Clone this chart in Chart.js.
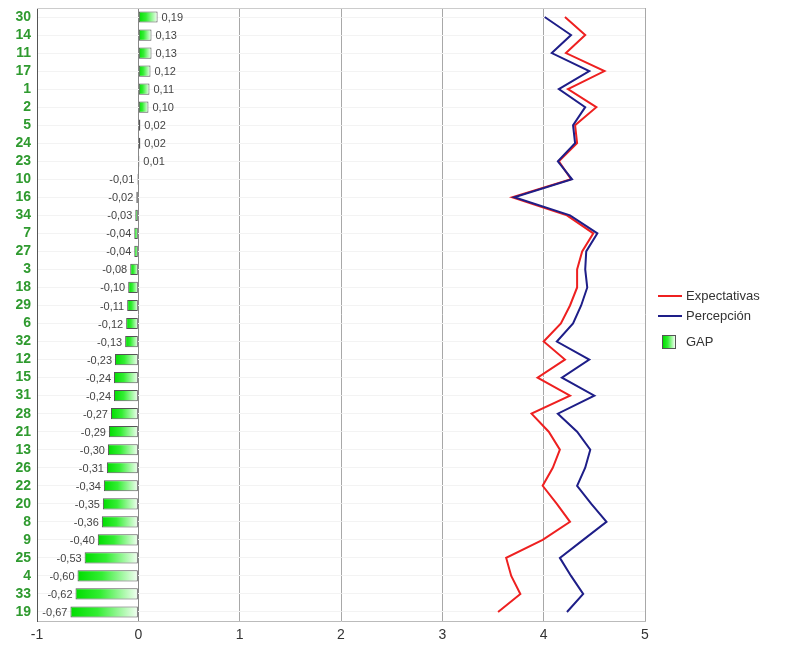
<!DOCTYPE html>
<html><head><meta charset="utf-8">
<script src="https://cdn.jsdelivr.net/npm/chart.js@4"></script>
<style>
html,body{margin:0;padding:0;background:#fff;}
#wrap{position:relative;width:793px;height:646px;}
#c{position:absolute;left:0;top:0;}
.lg{position:absolute;font:13px "Liberation Sans",Arial,sans-serif;color:#333;}
.ln{position:absolute;height:2px;width:24px;}
.bx{position:absolute;width:12px;height:12px;border:1px solid #555;background:linear-gradient(to right,#00dd00,#33ee33 40%,#f4fff4);}
</style></head>
<body><div id="wrap"><canvas id="c" width="793" height="646"></canvas>
<div class="ln" style="left:658px;top:295px;background:#ee2020"></div><div class="lg" style="left:686px;top:288px">Expectativas</div>
<div class="ln" style="left:658px;top:315px;background:#1e1e88"></div><div class="lg" style="left:686px;top:308px">Percepción</div>
<div class="bx" style="left:662px;top:335px"></div><div class="lg" style="left:686px;top:334px">GAP</div>
</div>
<script>
const categories = ['30','14','11','17','1','2','5','24','23','10','16','34','7','27','3','18','29','6','32','12','15','31','28','21','13','26','22','20','8','9','25','4','33','19'];
const gap = [0.19,0.13,0.13,0.12,0.11,0.10,0.02,0.02,0.01,-0.01,-0.02,-0.03,-0.04,-0.04,-0.08,-0.10,-0.11,-0.12,-0.13,-0.23,-0.24,-0.24,-0.27,-0.29,-0.30,-0.31,-0.34,-0.35,-0.36,-0.40,-0.53,-0.60,-0.62,-0.67];
const percepcion = [4.01,4.27,4.08,4.45,4.15,4.41,4.29,4.31,4.14,4.28,3.71,4.26,4.53,4.42,4.41,4.43,4.37,4.29,4.13,4.45,4.18,4.50,4.14,4.33,4.46,4.41,4.33,4.47,4.62,4.39,4.16,4.27,4.39,4.23];
const expectativas = [4.21,4.41,4.22,4.60,4.24,4.52,4.31,4.33,4.15,4.27,3.69,4.23,4.49,4.38,4.33,4.33,4.26,4.17,4.00,4.21,3.94,4.26,3.88,4.05,4.16,4.09,3.99,4.13,4.26,3.99,3.63,3.68,3.77,3.55];
const xTicks = [-1,0,1,2,3,4,5];

const fmt = v => v.toFixed(2).replace('.', ',');

function barFill(ctx){
  if (ctx.type !== 'data') return '#00dd00';
  const chart = ctx.chart, sc = chart.scales.x;
  if (!sc || !chart.chartArea) return '#00dd00';
  const v = ctx.raw;
  const a = sc.getPixelForValue(0), b = sc.getPixelForValue(v);
  const l = Math.min(a,b), r = Math.max(a,b);
  if (r - l < 1) return '#00dd00';
  const g = chart.ctx.createLinearGradient(l,0,r,0);
  g.addColorStop(0,'#00dd00');
  g.addColorStop(0.4,'#33ee33');
  g.addColorStop(1,'#f6fff6');
  return g;
}

const labelPlugin = {
  id:'gapLabels',
  beforeDatasetsDraw(chart){
    const {ctx, chartArea:ca} = chart;
    ctx.save();
    ctx.strokeStyle = '#cccccc'; ctx.lineWidth = 1;
    ctx.beginPath(); ctx.moveTo(ca.left, ca.top+0.5); ctx.lineTo(ca.right, ca.top+0.5); ctx.stroke();
    ctx.restore();
  },
  afterDatasetsDraw(chart){
    const meta = chart.getDatasetMeta(2);
    const ctx = chart.ctx;
    ctx.save();
    ctx.font = '11px "Liberation Sans", Arial, sans-serif';
    ctx.fillStyle = '#444';
    ctx.textBaseline = 'middle';
    meta.data.forEach((el,i)=>{
      const v = gap[i];
      if (v >= 0){ ctx.textAlign='left'; ctx.fillText(fmt(v), el.x+4, el.y+1); }
      else { ctx.textAlign='right'; ctx.fillText(fmt(v), el.x-3, el.y+1); }
    });
    ctx.restore();
  }
};

new Chart(document.getElementById('c'), {
  data:{
    labels: categories,
    datasets:[
      {type:'line', label:'Expectativas', data:expectativas, borderColor:'#ee2020', borderWidth:2, pointRadius:0, tension:0, order:1},
      {type:'line', label:'Percepción', data:percepcion, borderColor:'#1e1e88', borderWidth:2, pointRadius:0, tension:0, order:0},
      {type:'bar', label:'GAP', data:gap, backgroundColor:barFill, borderColor:'#555', borderWidth:1, borderSkipped:false, barPercentage:0.62, categoryPercentage:1, order:2}
    ]
  },
  options:{
    indexAxis:'y',
    responsive:false, animation:false,
    layout:{padding:{top:8,right:148,left:0,bottom:0}},
    plugins:{legend:{display:false}, tooltip:{enabled:false}},
    scales:{
      x:{type:'linear', min:-1, max:5,
        afterBuildTicks(s){ s.ticks = xTicks.map(v=>({value:v})); },
        afterFit(s){ s.height = 25; },
        grid:{color:c=> c.tick && c.tick.value===-1 ? '#555' : (c.tick && c.tick.value===0 ? '#888' : '#a8a8a8'), drawTicks:false, lineWidth:1},
        border:{display:true, color:'#bbbbbb'},
        ticks:{color:'#333', font:{size:14, family:'"Liberation Sans", Arial, sans-serif'}, padding:6}
      },
      y:{type:'category',
        afterFit(s){ s.width = 37; s.paddingTop = 0; s.paddingBottom = 0; },
        grid:{offset:false, color:'#f3f3f3', drawTicks:false},
        border:{display:true, color:'#555'},
        ticks:{color:'#2f9a2f', font:{size:14, weight:'bold', family:'"Liberation Sans", Arial, sans-serif'}, padding:6, autoSkip:false}
      }
    }
  },
  plugins:[labelPlugin]
});
</script></body></html>
